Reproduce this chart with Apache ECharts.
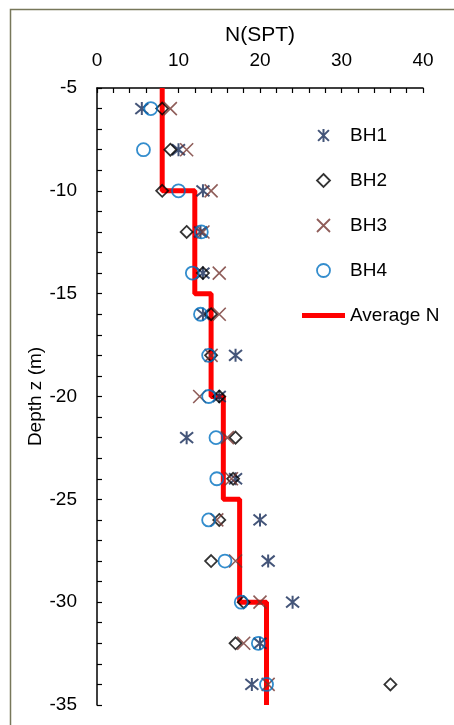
<!DOCTYPE html>
<html><head><meta charset="utf-8">
<script src="https://cdn.jsdelivr.net/npm/echarts@6/dist/echarts.min.js"></script>
<style>html,body{margin:0;padding:0;background:#fff}#c{width:454px;height:725px}</style>
</head><body><div id="c"></div>
<script>
// Depth of each SPT test (m)
const depths = [-6, -8, -10, -12, -14, -16, -18, -20, -22, -24, -26, -28, -30, -32, -34];
// N(SPT) per borehole
const bh1 = [5.5, 10, 13, 12.7, 13, 13, 17, 15, 11, 17, 20, 21, 24, 20, 19];
const bh2 = [8, 9, 8, 11, 13, 14, 14, 15, 17, 16.7, 15, 14, 18, 17, 36];
const bh3 = [9, 11, 14, 13, 15, 15, 14, 12.6, 16, 16.5, 14.7, 17, 20, 18, 21];
const bh4 = [6.6, 5.7, 10, 12.8, 11.7, 12.7, 13.7, 13.7, 14.6, 14.7, 13.7, 15.7, 17.7, 19.8, 20.8];
// Average N layers
const avgTop = [-5, -10, -15, -20, -25, -30];
const avgBottom = [-10, -15, -20, -25, -30, -35];
const avgN = [8, 12, 14, 15.5, 17.5, 20.8];
// Axis ticks
const xTicks = [0, 10, 20, 30, 40];
const yTicks = [-35, -30, -25, -20, -15, -10, -5];

const pairs = arr => arr.map((v, i) => [v, depths[i]]);
const avgPoints = [];
for (let i = 0; i < avgN.length; i++) {
  avgPoints.push([avgN[i], avgTop[i]]);
  avgPoints.push([avgN[i], avgBottom[i]]);
}
const FONT = 'Liberation Sans';
const SYM_AST = 'path://M0,0L10,10M10,0L0,10M5,-1L5,11';
const SYM_X = 'path://M0,0L10,10M10,0L0,10';
const SYM_DIA = 'path://M5,0L10,5L5,10L0,5Z';
const LINE_ICON = 'path://M0,0L43,0L43,5L0,5Z';

const chart = echarts.init(document.getElementById('c'), null, {renderer: 'canvas'});
chart.setOption({
  animation: false,
  backgroundColor: '#fff',
  graphic: [{
    type: 'rect', left: 8, top: 7, silent: true,
    shape: {x: 0, y: 0, width: 600, height: 900},
    style: {fill: 'none', stroke: '#77775A', lineWidth: 1.5}
  }],
  grid: {left: 97, top: 88, width: 326, height: 617, containLabel: false},
  xAxis: {
    type: 'value', position: 'top', min: xTicks[0], max: xTicks[xTicks.length - 1], interval: 10,
    name: 'N(SPT)', nameLocation: 'middle', nameGap: 42,
    nameTextStyle: {fontSize: 21, color: '#000', fontFamily: FONT},
    axisLine: {show: true, onZero: false, lineStyle: {color: '#000', width: 1.5}},
    axisTick: {show: true, inside: true, length: 5, lineStyle: {color: '#000', width: 1.2}},
    minorTick: {show: true, splitNumber: 5, length: 5, lineStyle: {color: '#000', width: 1.2}},
    axisLabel: {fontSize: 19, color: '#000', fontFamily: FONT, margin: 18},
    splitLine: {show: false}
  },
  yAxis: {
    type: 'value', min: yTicks[0], max: yTicks[yTicks.length - 1], interval: 5,
    name: 'Depth z (m)', nameLocation: 'middle', nameGap: 52, nameRotate: 90, nameMoveOverlap: false,
    nameTextStyle: {fontSize: 19, color: '#000', fontFamily: FONT},
    axisLine: {show: true, onZero: false, lineStyle: {color: '#000', width: 1.5}},
    axisTick: {show: true, inside: true, length: 5, lineStyle: {color: '#000', width: 1.2}},
    minorTick: {show: true, splitNumber: 5, length: 5, lineStyle: {color: '#000', width: 1.2}},
    axisLabel: {fontSize: 19, color: '#000', fontFamily: FONT, margin: 20},
    splitLine: {show: false}
  },
  legend: {
    orient: 'vertical', left: 297, top: 121, itemWidth: 43, itemHeight: 13, itemGap: 26,
    textStyle: {fontSize: 19, color: '#000', fontFamily: FONT},
    data: [
      {name: 'BH1', itemStyle: {borderWidth: 2}},
      {name: 'BH2', itemStyle: {borderWidth: 1.8}},
      {name: 'BH3', itemStyle: {borderWidth: 1.8}},
      {name: 'BH4', itemStyle: {borderWidth: 1.8}},
      {name: 'Average N', icon: LINE_ICON, itemStyle: {color: '#FF0000', borderWidth: 0}}
    ]
  },
  series: [
    {
      name: 'Average N', type: 'line', data: avgPoints, symbol: 'none', showSymbol: false, z: 1,
      lineStyle: {color: '#FF0000', width: 5}, itemStyle: {color: '#FF0000', borderColor: '#FF0000'}
    },
    {
      name: 'BH1', type: 'scatter', data: pairs(bh1), symbol: SYM_AST, symbolSize: 13, z: 3,
      itemStyle: {color: 'transparent', borderColor: '#152A58', borderWidth: 2}
    },
    {
      name: 'BH2', type: 'scatter', data: pairs(bh2), symbol: SYM_DIA, symbolSize: 12, z: 3,
      itemStyle: {color: 'transparent', borderColor: '#000000', borderWidth: 1.8}
    },
    {
      name: 'BH3', type: 'scatter', data: pairs(bh3), symbol: SYM_X, symbolSize: 13, z: 3,
      itemStyle: {color: 'transparent', borderColor: '#733530', borderWidth: 1.6}
    },
    {
      name: 'BH4', type: 'scatter', data: pairs(bh4), symbol: 'circle', symbolSize: 13, z: 3,
      itemStyle: {color: 'transparent', borderColor: '#0070C0', borderWidth: 1.8}
    }
  ]
});
</script></body></html>
